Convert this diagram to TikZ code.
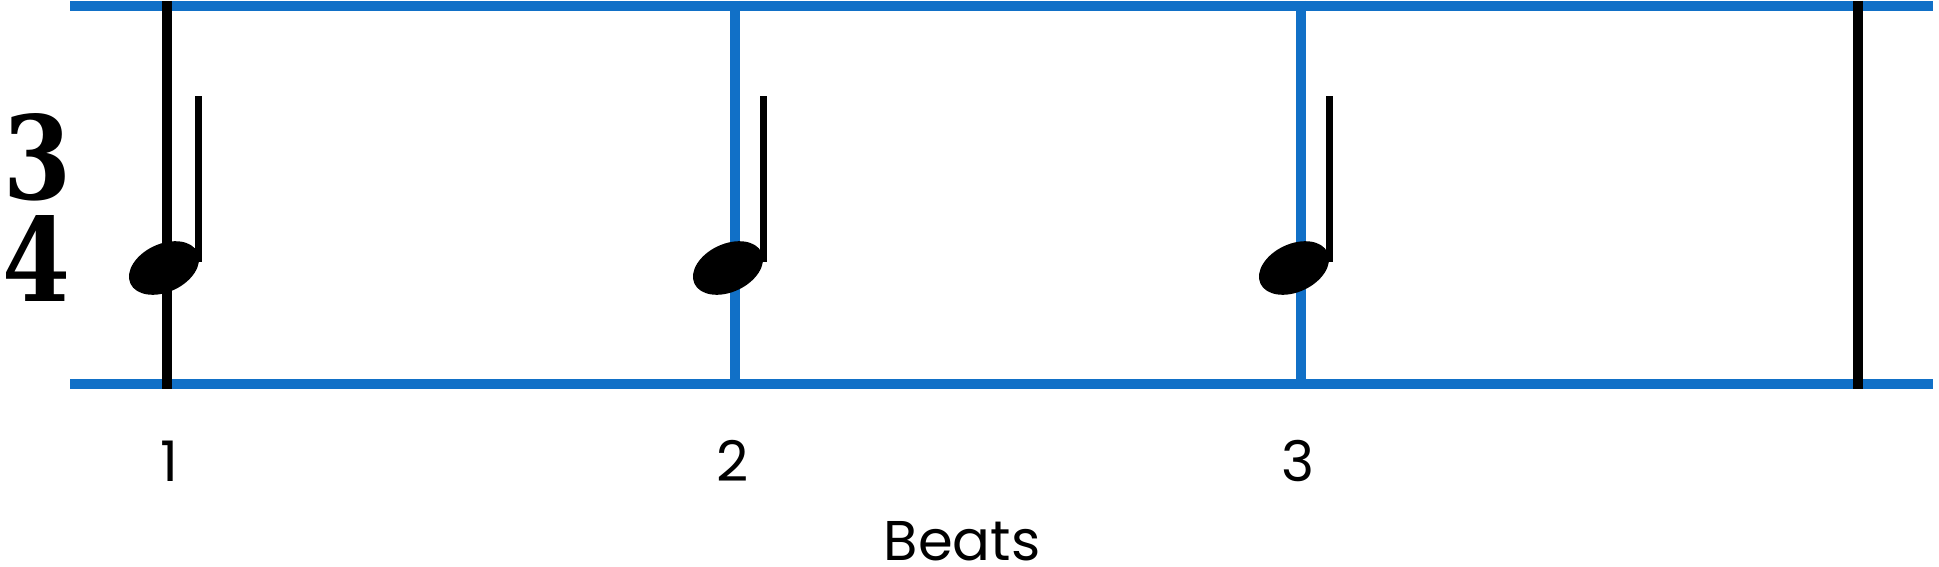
\documentclass[tikz,border=0pt]{standalone}
\usepackage{graphicx}
\usepackage{fontspec}
\newfontfamily\lblfont{Poppins}
\newfontfamily\tsfont{DejaVu Serif}
\definecolor{staffblue}{RGB}{17,112,199}
\newcommand{\tsdigit}[1]{\resizebox{34pt}{43pt}{\tsfont\bfseries #1}}
\begin{document}
\begin{tikzpicture}[x=0.5pt,y=-0.5pt,
  staffline/.style={staffblue,line width=5pt},
  beatline/.style={staffblue,line width=5pt},
  barline/.style={black,line width=5pt},
  stem/.style={black,line width=3.5pt},
  lbl/.style={inner sep=0pt,anchor=base,font=\lblfont\fontsize{28}{28}\selectfont},
  tsig/.style={inner sep=0pt}]
\useasboundingbox (0,0) rectangle (1939,567);
% staff lines
\coordinate (tl) at (70,6);
\coordinate (tr) at (1933,6);
\coordinate (bl) at (70,384);
\coordinate (br) at (1933,384);
\draw[staffline] (tl) -- (tr);
\draw[staffline] (bl) -- (br);
% beat lines
\coordinate (b2t) at (735,1); \coordinate (b2b) at (735,389);
\coordinate (b3t) at (1301,1); \coordinate (b3b) at (1301,389);
\draw[beatline] (b2t) -- (b2b);
\draw[beatline] (b3t) -- (b3b);
% bar lines
\coordinate (b1t) at (167,1); \coordinate (b1b) at (167,389);
\coordinate (b4t) at (1858,1); \coordinate (b4b) at (1858,389);
\draw[barline] (b1t) -- (b1b);
\draw[barline] (b4t) -- (b4b);
% notes
\foreach \hx/\sx in {164/198,728/763,1294/1329}{
  \fill[black] (\hx,268) ellipse [x radius=37, y radius=24, rotate=25];
  \draw[stem] (\sx,262) -- (\sx,96);
}
% time signature
\node[tsig] (ts3) at (38,157) {\tsdigit{3}};
\node[tsig] (ts4) at (37,258) {\tsdigit{4}};
% labels
\node[lbl] (l1) at (169,481) {1};
\node[lbl] (l2) at (733,481) {2};
\node[lbl] (l3) at (1298,481) {3};
\node[lbl] (beats) at (962,560) {Beats};
\end{tikzpicture}
\end{document}
